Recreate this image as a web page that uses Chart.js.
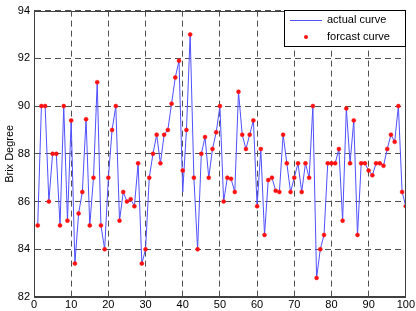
<!DOCTYPE html>
<html><head><meta charset="utf-8">
<script src="https://cdn.jsdelivr.net/npm/chart.js@4/dist/chart.umd.min.js"></script>
<style>html,body{margin:0;padding:0;background:#fff;}canvas{display:block;}</style>
</head><body>
<canvas id="c" width="416" height="311"></canvas>
<script>
const xTicks = [0,10,20,30,40,50,60,70,80,90,100];
const yTicks = [82,84,86,88,90,92,94];
const sampleNo = [1,2,3,4,5,6,7,8,9,10,11,12,13,14,15,16,17,18,19,20,21,22,23,24,25,26,27,28,29,30,31,32,33,34,35,36,37,38,39,40,41,42,43,44,45,46,47,48,49,50,51,52,53,54,55,56,57,58,59,60,61,62,63,64,65,66,67,68,69,70,71,72,73,74,75,76,77,78,79,80,81,82,83,84,85,86,87,88,89,90,91,92,93,94,95,96,97,98,99,100];
const actualCurve = [85.0,90.0,90.0,86.0,88.0,88.0,85.0,90.0,85.2,89.4,
83.4,85.5,86.4,89.45,85.0,87.0,91.0,85.0,84.0,87.0,
89.0,90.0,85.2,86.4,86.0,86.1,85.8,87.6,83.4,84.0,
87.0,88.0,88.8,87.6,88.8,89.0,90.1,91.2,91.9,86.4,
89.0,93.0,87.0,84.0,88.0,88.7,87.0,88.2,88.9,90.0,
86.0,87.0,86.95,86.4,90.6,88.8,88.2,88.8,89.4,85.8,
88.2,84.6,86.9,87.0,86.45,86.4,88.8,87.6,86.4,87.0,
87.6,86.4,87.6,87.0,90.0,82.8,84.0,84.6,87.6,87.6,
87.6,88.2,85.2,89.9,87.6,89.4,84.6,87.6,87.6,87.3,
87.1,87.6,87.6,87.5,88.2,88.8,88.5,90.0,86.4,85.8];
const forcastCurve = [85.0,90.0,90.0,86.0,88.0,88.0,85.0,90.0,85.2,89.4,
83.4,85.5,86.4,89.45,85.0,87.0,91.0,85.0,84.0,87.0,
89.0,90.0,85.2,86.4,86.0,86.1,85.8,87.6,83.4,84.0,
87.0,88.0,88.8,87.6,88.8,89.0,90.1,91.2,91.9,87.3,
89.0,93.0,87.0,84.0,88.0,88.7,87.0,88.2,88.9,90.0,
86.0,87.0,86.95,86.4,90.6,88.8,88.2,88.8,89.4,85.8,
88.2,84.6,86.9,87.0,86.45,86.4,88.8,87.6,86.4,87.0,
87.6,86.4,87.6,87.0,90.0,82.8,84.0,84.6,87.6,87.6,
87.6,88.2,85.2,89.9,87.6,89.4,84.6,87.6,87.6,87.3,
87.1,87.6,87.6,87.5,88.2,88.8,88.5,90.0,86.4,85.8];
const seriesNames = ['actual curve','forcast curve'];
const yTitle = 'Brix Degree';

const FONT = {family:'"Liberation Sans", Arial, sans-serif', size:11};
const LINE_COLOR = '#5050ff';
const DOT_COLOR = '#ff1010';

const boxPlugin = {
  id:'boxPlugin',
  afterDraw(chart){
    const {ctx, chartArea:a} = chart;
    ctx.save();
    ctx.strokeStyle = '#404040';
    ctx.lineWidth = 1;
    ctx.setLineDash([]);
    ctx.strokeRect(Math.round(a.left)+0.5, Math.round(a.top)+0.5, Math.round(a.right-a.left)-1, Math.round(a.bottom-a.top)-1);
    // legend
    const L = 284, T = 10, W = 121, H = 36;
    ctx.fillStyle = '#fff';
    ctx.fillRect(L, T, W, H);
    ctx.strokeStyle = '#000';
    ctx.strokeRect(L+0.5, T+0.5, W, H);
    ctx.strokeStyle = LINE_COLOR;
    ctx.beginPath(); ctx.moveTo(L+6, T+10.5); ctx.lineTo(L+38, T+10.5); ctx.stroke();
    ctx.fillStyle = DOT_COLOR;
    ctx.beginPath(); ctx.arc(L+22, T+27, 2, 0, Math.PI*2); ctx.fill();
    ctx.fillStyle = '#000';
    ctx.font = '11px "Liberation Sans", Arial, sans-serif';
    ctx.textBaseline = 'middle';
    ctx.fillText(seriesNames[0], L+43, T+10);
    ctx.fillText(seriesNames[1], L+43, T+27);
    ctx.restore();
  }
};

new Chart(document.getElementById('c'), {
  type:'line',
  data:{
    datasets:[
      {label:seriesNames[0], data:sampleNo.map((x,i)=>({x, y:actualCurve[i]})), borderColor:LINE_COLOR, borderWidth:1, pointRadius:0, fill:false, tension:0, order:2},
      {label:seriesNames[1], data:sampleNo.map((x,i)=>({x, y:forcastCurve[i]})), showLine:false, pointRadius:2, pointBackgroundColor:DOT_COLOR, pointBorderColor:DOT_COLOR, pointBorderWidth:0.5, order:1}
    ]
  },
  options:{
    responsive:false, animation:false, events:[],
    layout:{padding:{top:5,right:9,bottom:0,left:0}},
    plugins:{legend:{display:false}, tooltip:{enabled:false}},
    scales:{
      x:{type:'linear', min:0, max:100,
        afterBuildTicks(s){ s.ticks = xTicks.map(v=>({value:v})); },
        afterFit(s){ s.height = 14; },
        grid:{color:'#505050', drawTicks:false, lineWidth:1},
        border:{display:true, color:'#404040', dash:[6,4]},
        ticks:{color:'#000', font:FONT, padding:1, maxRotation:0, autoSkip:false}
      },
      y:{min:82, max:94,
        afterBuildTicks(s){ s.ticks = yTicks.map(v=>({value:v})); },
        afterFit(s){ s.width = 34; },
        grid:{color:'#505050', drawTicks:false, lineWidth:1},
        border:{display:true, color:'#404040', dash:[6,4]},
        ticks:{color:'#000', font:FONT, padding:4, autoSkip:false},
        title:{display:true, text:yTitle, color:'#000', font:FONT, padding:{top:3,bottom:0}}
      }
    }
  },
  plugins:[boxPlugin]
});
</script>
</body></html>
